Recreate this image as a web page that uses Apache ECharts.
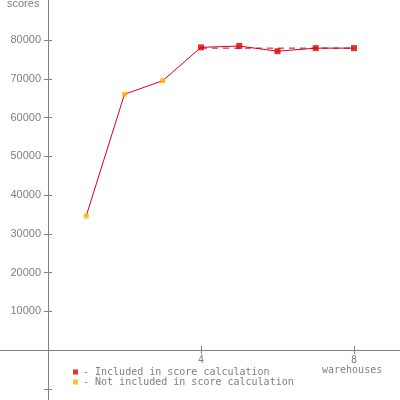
<!DOCTYPE html>
<html>
<head>
<meta charset="utf-8">
<script src="https://cdn.jsdelivr.net/npm/echarts@6/dist/echarts.min.js"></script>
<style>
  html, body { margin: 0; padding: 0; background: #fff; }
  #chart { width: 400px; height: 400px; }
</style>
</head>
<body>
<div id="chart"></div>
<script>
// chart data
const warehouses = [1, 2, 3, 4, 5, 6, 7, 8];
const scores = [34600, 66000, 69500, 78100, 78450, 77100, 77900, 77900];
const included = [false, false, false, true, true, true, true, true];
const overallScore = 77900;
const scoreRange = [4, 8];
const yTickValues = [-10000, 0, 10000, 20000, 30000, 40000, 50000, 60000, 70000, 80000];
const yLabelValues = [10000, 20000, 30000, 40000, 50000, 60000, 70000, 80000];
const xTickValues = [4, 8];

const axisGray = '#808080';
const lineRed = '#cc0022';
// axes cross at pixel (48, 350)
const yMin = -12903, yMax = 90323;
const xMin = -1.255, xMax = 9.203;

const chart = echarts.init(document.getElementById('chart'));

const linePoints = warehouses.map((w, i) => [w, scores[i]]);
const inPoints = linePoints.filter((p, i) => included[i]);
const outPoints = linePoints.filter((p, i) => !included[i]);

function xAxisDef(pos, offset, showLabel) {
  return {
    type: 'value', position: pos, offset: offset, min: xMin, max: xMax,
    axisLine: { onZero: false, lineStyle: { color: axisGray, width: 1 } },
    axisTick: { show: true, length: 4, customValues: xTickValues, lineStyle: { color: axisGray } },
    axisLabel: {
      show: showLabel, customValues: xTickValues, margin: 5,
      color: axisGray, fontFamily: 'DejaVu Sans Mono', fontSize: 10, lineHeight: 10,
      formatter: v => String(v)
    },
    splitLine: { show: false }
  };
}

function yAxisDef(pos, offset, showLabel) {
  return {
    type: 'value', position: pos, offset: offset, min: yMin, max: yMax,
    axisLine: { onZero: false, lineStyle: { color: axisGray, width: 1 } },
    axisTick: { show: true, length: 4, customValues: yTickValues, lineStyle: { color: axisGray } },
    axisLabel: {
      show: showLabel, customValues: yLabelValues, margin: 7,
      color: axisGray, fontFamily: 'Liberation Sans', fontSize: 11,
      formatter: v => String(v)
    },
    splitLine: { show: false }
  };
}

chart.setOption({
  animation: false,
  title: [
    { text: 'scores', left: 7, top: -2, padding: 0,
      textStyle: { color: axisGray, fontFamily: 'Liberation Sans', fontSize: 11, fontWeight: 'normal' } },
    { text: 'warehouses', left: 322, top: 365, padding: 0,
      textStyle: { color: axisGray, fontFamily: 'DejaVu Sans Mono', fontSize: 10, lineHeight: 10, fontWeight: 'normal' } }
  ],
  legend: {
    orient: 'vertical', left: 73, top: 367, padding: 0,
    itemWidth: 5, itemHeight: 5, itemGap: 0,
    icon: 'rect',
    textStyle: { color: axisGray, fontFamily: 'DejaVu Sans Mono', fontSize: 10, lineHeight: 8 },
    data: ['- Included in score calculation', '- Not included in score calculation']
  },
  grid: { left: 0, right: 0, top: 0, bottom: 0, containLabel: false, outerBoundsMode: 'none' },
  xAxis: [xAxisDef('bottom', -50, true), xAxisDef('top', -350, false)],
  yAxis: [yAxisDef('left', -48, true), yAxisDef('right', -352, false)],
  series: [
    {
      name: 'score', type: 'line', data: linePoints, showSymbol: false, symbol: 'none',
      lineStyle: { color: lineRed, width: 1 }, z: 2
    },
    {
      name: 'overall', type: 'line', symbol: 'none',
      data: [[scoreRange[0], overallScore], [scoreRange[1], overallScore]],
      lineStyle: { color: lineRed, width: 1, type: [6, 5] }, z: 2
    },
    {
      name: '- Included in score calculation', type: 'scatter', data: inPoints,
      symbol: 'rect', symbolSize: 6, itemStyle: { color: '#dd0000' }, z: 3
    },
    {
      name: '- Not included in score calculation', type: 'scatter', data: outPoints,
      symbol: 'rect', symbolSize: 5, itemStyle: { color: '#ffb400' }, z: 3
    }
  ]
});
</script>
</body>
</html>
